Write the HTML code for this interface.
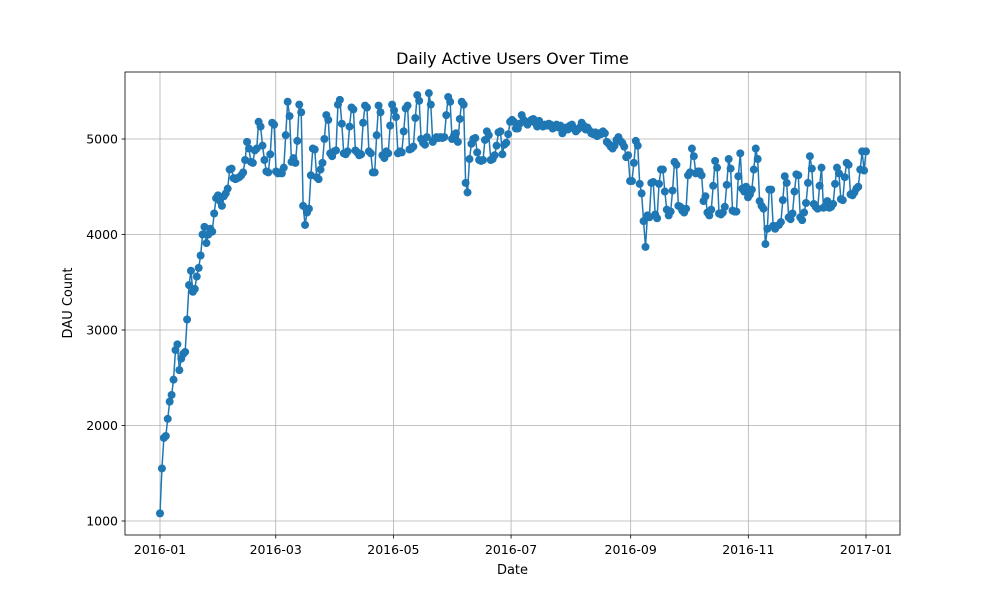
<!DOCTYPE html>
<html><head><meta charset="utf-8"><style>
body{margin:0;background:#fff;font-family:"Liberation Sans","DejaVu Sans",sans-serif}
svg text{font-family:"DejaVu Sans","Liberation Sans",sans-serif}
</style></head><body>
<svg id="chart" width="1000" height="600" viewBox="0 0 1000 600"></svg>
<script>
const startDate = "2016-01-01";
const dauValues = [
1080,1550,1870,1890,2070,2250,2320,2480,2790,2850,2580,2700,2750,2770,3110,3470,3620,3400,3430,3560,3650,3780,4000,4080,3910,4000,4060,4030,4220,4380,4410,
4350,4300,4400,4430,4480,4680,4690,4590,4580,4590,4600,4620,4650,4780,4970,4900,4760,4750,4880,4900,5180,5130,4930,4780,4660,4650,4840,5170,5150,4660,4640,4650,
4640,4700,5040,5390,5240,4760,4800,4750,4980,5360,5280,4300,4100,4230,4270,4620,4900,4890,4600,4580,4680,4750,5000,5250,5200,4850,4820,4870,4880,5360,5410,
5160,4850,4840,4870,5130,5330,5310,4880,4860,4830,4840,5170,5350,5330,4870,4850,4650,4650,5040,5350,5280,4830,4800,4870,4850,5140,5360,5300,5230,4850,
4870,4860,5080,5320,5350,4890,4900,4920,5220,5460,5400,5000,4960,4940,5020,5480,5360,4970,5000,5020,5010,5020,5010,5020,5250,5440,5390,5000,5040,5060,4970,5210,5390,
5360,4540,4440,4790,4950,5000,5010,4860,4780,4770,4780,4990,5080,5040,4780,4790,4830,4930,5070,5080,4840,4940,4960,5050,5180,5200,5180,5110,5110,5160,
5250,5200,5180,5150,5180,5200,5210,5170,5130,5190,5150,5130,5150,5140,5160,5150,5110,5130,5150,5120,5140,5060,5090,5120,5100,5140,5150,5110,5080,5100,5120,
5170,5140,5100,5120,5090,5060,5050,5070,5030,5060,5050,5080,5060,4970,4950,4920,4900,4930,4990,5020,4980,4960,4920,4810,4830,4560,4560,4750,
4980,4930,4530,4430,4140,3870,4200,4180,4540,4550,4210,4170,4530,4680,4680,4450,4260,4200,4240,4460,4760,4730,4300,4290,4250,4230,4270,4620,4650,4900,4820,4640,4660,
4660,4620,4350,4400,4230,4200,4260,4510,4770,4700,4220,4210,4230,4290,4520,4790,4690,4250,4240,4240,4610,4850,4480,4450,4500,4390,4420,4470,4680,4900,4790,4350,4300,
4270,3900,4060,4470,4470,4090,4060,4090,4100,4130,4360,4610,4540,4180,4160,4220,4450,4630,4620,4180,4150,4230,4330,4540,4820,4690,4320,4290,4270,4510,
4700,4280,4300,4350,4280,4290,4320,4530,4700,4640,4370,4360,4600,4750,4730,4420,4410,4440,4480,4500,4680,4870,4670,4870
];
const xTickLabels = ["2016-01","2016-03","2016-05","2016-07","2016-09","2016-11","2017-01"];
const xTickDays = [0,60,121,182,244,305,366];
const yTicks = [1000,2000,3000,4000,5000];

const svg = document.getElementById('chart');
const NS = "http://www.w3.org/2000/svg";
const L=125,R=900,T=72,B=535;
function xScale(d){return 160 + d*(706/366);}
function yScale(v){return 521 - (v-1000)*(382/4000);}
function mk(tag, attrs, txt){const e=document.createElementNS(NS,tag);for(const k in attrs)e.setAttribute(k,attrs[k]);if(txt!==undefined)e.textContent=txt;svg.appendChild(e);return e;}

xTickDays.forEach((d,i)=>{
  const x=xScale(d);
  const g=mk('line',{x1:x,x2:x,y1:T,y2:B,stroke:'#b0b0b0','stroke-width':0.8});
  
  
  mk('line',{x1:x,x2:x,y1:B,y2:B+3.5,stroke:'#000','stroke-width':0.8});
  const t=mk('text',{x:x,y:B+19,'font-size':12.5,'text-anchor':'middle',fill:'#000'},xTickLabels[i]);
  
  
});
yTicks.forEach(v=>{
  const y=yScale(v);
  const g=mk('line',{x1:L,x2:R,y1:y,y2:y,stroke:'#b0b0b0','stroke-width':0.8});
  
  
  mk('line',{x1:L-3.5,x2:L,y1:y,y2:y,stroke:'#000','stroke-width':0.8});
  const t=mk('text',{x:L-7,y:y+4.5,'font-size':12.5,'text-anchor':'end',fill:'#000'},String(v));
  
  
});

const n=dauValues.length;
function xi(i){return xScale(i*366/(n-1));}
let pts=dauValues.map((v,i)=>xi(i).toFixed(2)+','+yScale(v).toFixed(2)).join(' ');
const line=mk('polyline',{points:pts,fill:'none',stroke:'#1f77b4','stroke-width':1.5});


dauValues.forEach((v,i)=>{
  const c=mk('circle',{cx:xi(i),cy:yScale(v),r:4,fill:'#1f77b4'});
  
  
});

const fr=mk('rect',{x:L,y:T,width:R-L,height:B-T,fill:'none',stroke:'#000','stroke-width':0.8});



const title=mk('text',{x:(L+R)/2,y:64,'font-size':16,'text-anchor':'middle',fill:'#000'},'Daily Active Users Over Time');


const xl=mk('text',{x:(L+R)/2,y:574,'font-size':13,'text-anchor':'middle',fill:'#000'},'Date');


const yl=mk('text',{x:0,y:0,'font-size':13,'text-anchor':'middle',fill:'#000',transform:'translate(72,303) rotate(-90)'},'DAU Count');


</script>
</body></html>
